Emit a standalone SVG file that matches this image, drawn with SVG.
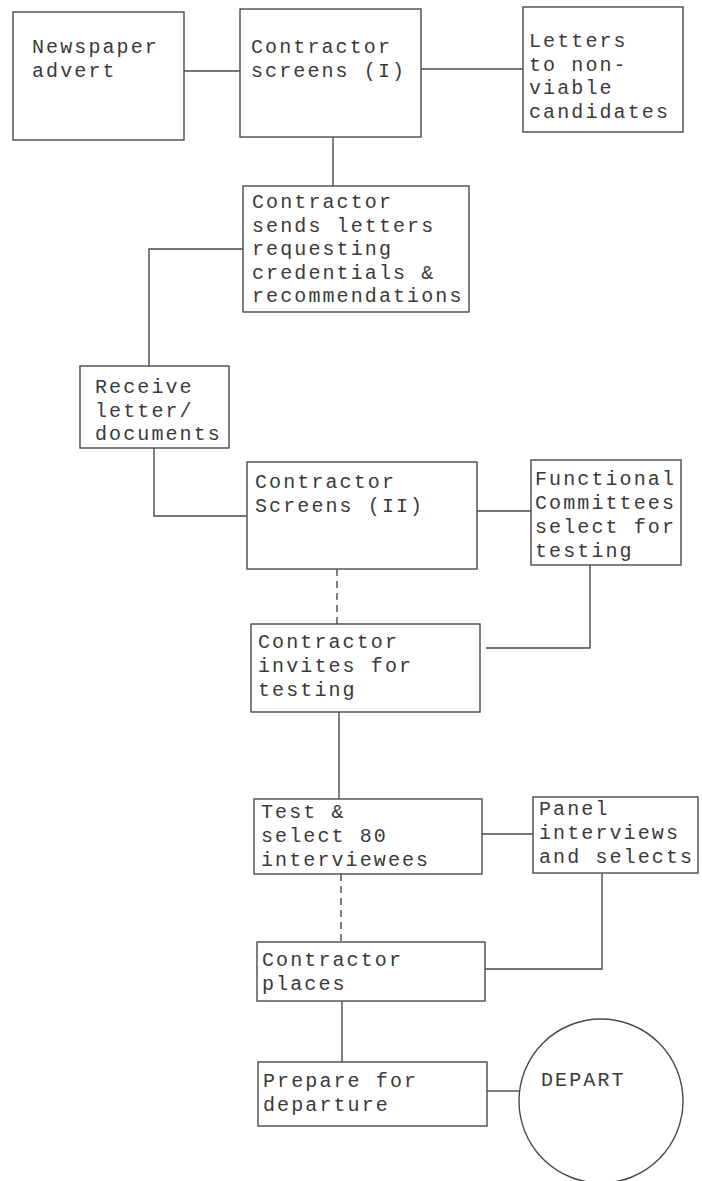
<svg xmlns="http://www.w3.org/2000/svg" width="702" height="1181" viewBox="0 0 702 1181">
<style>
.box{fill:none;stroke:#4a4a4a;stroke-width:1.4}
.ln{fill:none;stroke:#4a4a4a;stroke-width:1.4}
.dash{stroke-dasharray:7 5}
text{font-family:"Liberation Mono","Courier New",monospace;font-size:20px;letter-spacing:2.1px;fill:#3a3a3a}
</style>
<rect width="702" height="1181" fill="#ffffff"/>
<g id="connectors">
<line class="ln" x1="184" y1="71" x2="240" y2="71"/>
<line class="ln" x1="421" y1="69" x2="523" y2="69"/>
<line class="ln" x1="333" y1="137" x2="333" y2="186"/>
<polyline class="ln" points="243,249 149,249 149,366"/>
<polyline class="ln" points="154,448 154,516 247,516"/>
<line class="ln" x1="477" y1="511" x2="531" y2="511"/>
<line class="ln dash" x1="337" y1="569" x2="337" y2="625"/>
<polyline class="ln" points="590,565 590,648 486,648"/>
<line class="ln" x1="339" y1="712" x2="339" y2="799"/>
<line class="ln" x1="482" y1="834" x2="533" y2="834"/>
<line class="ln dash" x1="341" y1="874" x2="341" y2="942"/>
<polyline class="ln" points="602,873 602,969 485,969"/>
<line class="ln" x1="342" y1="1001" x2="342" y2="1062"/>
<line class="ln" x1="487" y1="1091" x2="519" y2="1091"/>
</g>
<g id="newspaper">
<rect class="box" x="13" y="12" width="171" height="128"/>
<text x="32" y="53">Newspaper</text>
<text x="32" y="77">advert</text>
</g>
<g id="screens1">
<rect class="box" x="240" y="9" width="181" height="128"/>
<text x="251" y="53">Contractor</text>
<text x="251" y="77">screens (I)</text>
</g>
<g id="letters">
<rect class="box" x="523" y="7" width="160" height="125"/>
<text x="529" y="47">Letters</text>
<text x="529" y="70.5">to non-</text>
<text x="529" y="94">viable</text>
<text x="529" y="117.5">candidates</text>
</g>
<g id="sends">
<rect class="box" x="243" y="186" width="226" height="126"/>
<text x="252" y="208">Contractor</text>
<text x="252" y="231.5">sends letters</text>
<text x="252" y="255">requesting</text>
<text x="252" y="278.5">credentials &amp;</text>
<text x="252" y="302">recommendations</text>
</g>
<g id="receive">
<rect class="box" x="80" y="366" width="149" height="82"/>
<text x="95" y="393">Receive</text>
<text x="95" y="417">letter/</text>
<text x="95" y="440">documents</text>
</g>
<g id="screens2">
<rect class="box" x="247" y="462" width="230" height="107"/>
<text x="255" y="488">Contractor</text>
<text x="255" y="512">Screens (II)</text>
</g>
<g id="functional">
<rect class="box" x="531" y="460" width="150" height="105"/>
<text x="535" y="485">Functional</text>
<text x="535" y="509">Committees</text>
<text x="535" y="533">select for</text>
<text x="535" y="557">testing</text>
</g>
<g id="invites">
<rect class="box" x="251" y="624" width="229" height="88"/>
<text x="258" y="648">Contractor</text>
<text x="258" y="672">invites for</text>
<text x="258" y="696">testing</text>
</g>
<g id="test">
<rect class="box" x="254" y="799" width="228" height="75"/>
<text x="261" y="818">Test &amp;</text>
<text x="261" y="842">select 80</text>
<text x="261" y="866">interviewees</text>
</g>
<g id="panel">
<rect class="box" x="533" y="797" width="165" height="76"/>
<text x="539" y="815">Panel</text>
<text x="539" y="839">interviews</text>
<text x="539" y="863">and selects</text>
</g>
<g id="places">
<rect class="box" x="257" y="942" width="228" height="59"/>
<text x="262" y="966">Contractor</text>
<text x="262" y="990">places</text>
</g>
<g id="prepare">
<rect class="box" x="258" y="1062" width="229" height="64"/>
<text x="263" y="1087">Prepare for</text>
<text x="263" y="1111">departure</text>
</g>
<g id="depart">
<circle class="box" cx="601" cy="1101" r="82"/>
<text x="541" y="1086">DEPART</text>
</g>
</svg>
